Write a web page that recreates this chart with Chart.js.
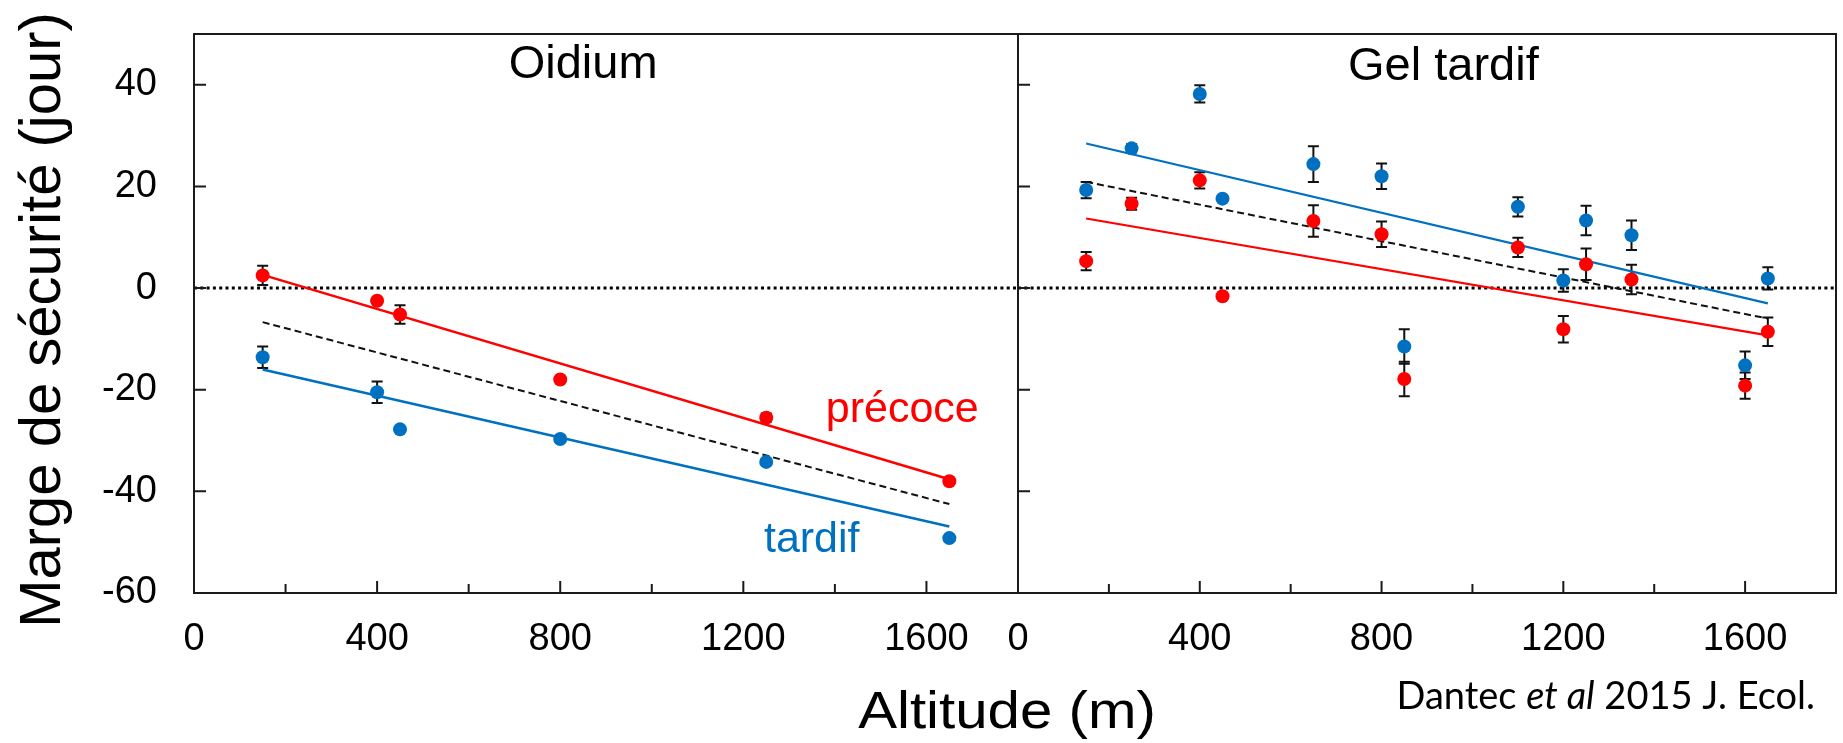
<!DOCTYPE html>
<html><head><meta charset="utf-8">
<script src="https://cdn.jsdelivr.net/npm/chart.js@4.4.1/dist/chart.umd.min.js"></script>
<style>
html,body{margin:0;padding:0;background:#fff;}
#wrap{position:relative;width:1843px;height:743px;overflow:hidden;background:#fff;}
#wrap canvas{position:absolute;left:0;top:0;}
</style></head><body>
<div id="wrap"><canvas id="c1" width="1843" height="743"></canvas><canvas id="c2" width="1843" height="743"></canvas></div>
<script>
// ---------- data ----------
const panelTitles = ['Oidium', 'Gel tardif'];
const xTitle = 'Altitude (m)';
const yTitle = 'Marge de sécurité (jour)';
const citation = ['Dantec ', 'et al', ' 2015 J. Ecol.'];
const seriesLabels = ['précoce', 'tardif'];
const xTicks = [0, 400, 800, 1200, 1600];
const xMinorTicks = [200, 600, 1000, 1400];
const yTicks = [-60, -40, -20, 0, 20, 40];
const xRange = [0, 1800];
const yRange = [-60, 50];
const zeroX = [0, 1800];
const zeroY = [0, 0];

// Oidium
const oidAlt = [150, 400, 450, 800, 1250, 1650];
const oidPrecoce = [2.5, -2.5, -5.2, -18.0, -25.5, -38.0];
const oidPrecoceErr = [1.9, 0, 1.8, 0, 0.8, 0];
const oidTardif = [-13.6, -20.5, -27.8, -29.7, -34.2, -49.2];
const oidTardifErr = [2.1, 2.1, 0, 0, 0, 0];
const oidFitX = [150, 1650];
const oidFitPrecoce = [2.6, -37.6];
const oidFitTardif = [-16.0, -46.9];
const oidFitMean = [-6.7, -42.5];

// Gel tardif
const gelAlt = [150, 250, 400, 450, 650, 800, 850, 1100, 1200, 1250, 1350, 1600, 1650];
const gelTardif = [19.3, 27.5, 38.2, 17.6, 24.4, 22.0, -11.5, 16.0, 1.5, 13.3, 10.4, -15.2, 1.9];
const gelTardifErr = [1.6, 0.8, 1.7, 0, 3.5, 2.5, 3.4, 1.9, 2.2, 2.9, 2.9, 2.7, 2.2];
const gelPrecoce = [5.3, 16.6, 21.2, -1.6, 13.2, 10.6, -17.9, 8.0, -8.1, 4.7, 1.7, -19.2, -8.6];
const gelPrecoceErr = [1.8, 1.2, 1.6, 0, 3.1, 2.5, 3.4, 1.9, 2.6, 3.1, 2.9, 2.6, 2.8];
const gelFitX = [150, 1650];
const gelFitTardif = [28.45, -3.0];
const gelFitPrecoce = [13.7, -9.3];
const gelFitMean = [20.9, -6.0];

// ---------- styles ----------
const FONT = "'Liberation Sans', Arial, sans-serif";
const CITE_FONT = "Lato, 'Open Sans', sans-serif";
const RED = '#FF0000';
const BLUE = '#0070C0';
const AXIS = '#1a1a1a';

const pts = (xa, ya) => xa.map((x, i) => ({x: x, y: ya[i]}));

const deco = {
  id: 'deco',
  beforeDatasetsDraw(chart, args, o) {
    const ctx = chart.ctx, xs = chart.scales.x, ys = chart.scales.y;
    ctx.save();
    ctx.strokeStyle = '#111';
    ctx.lineWidth = 2;
    (o.errors || []).forEach(e => {
      e.x.forEach((xv, i) => {
        const err = e.err[i];
        if (!err) return;
        const px = xs.getPixelForValue(xv);
        const y1 = ys.getPixelForValue(e.y[i] + err);
        const y2 = ys.getPixelForValue(e.y[i] - err);
        ctx.beginPath();
        ctx.moveTo(px, y1); ctx.lineTo(px, y2);
        ctx.moveTo(px - 5.5, y1); ctx.lineTo(px + 5.5, y1);
        ctx.moveTo(px - 5.5, y2); ctx.lineTo(px + 5.5, y2);
        ctx.stroke();
      });
    });
    ctx.restore();
  },
  afterDraw(chart, args, o) {
    const ctx = chart.ctx, a = chart.chartArea, xs = chart.scales.x, ys = chart.scales.y;
    ctx.save();
    ctx.strokeStyle = AXIS;
    ctx.lineWidth = 2;
    ctx.strokeRect(a.left, a.top, a.right - a.left, a.bottom - a.top);
    ctx.beginPath();
    yTicks.forEach(v => {
      if (v <= ys.min || v >= ys.max) return;
      const p = ys.getPixelForValue(v);
      ctx.moveTo(a.left, p); ctx.lineTo(a.left + 12, p);
    });
    xTicks.forEach(v => {
      if (v <= xs.min || v >= xs.max) return;
      const p = xs.getPixelForValue(v);
      ctx.moveTo(p, a.bottom); ctx.lineTo(p, a.bottom - 12);
    });
    xMinorTicks.forEach(v => {
      const p = xs.getPixelForValue(v);
      ctx.moveTo(p, a.bottom); ctx.lineTo(p, a.bottom - 9);
    });
    ctx.stroke();
    (o.texts || []).forEach(t => {
      const px = t.xv !== undefined ? xs.getPixelForValue(t.xv) : t.x;
      const py = t.yv !== undefined ? ys.getPixelForValue(t.yv) : t.y;
      ctx.fillStyle = t.color || '#000';
      ctx.textBaseline = 'alphabetic';
      ctx.textAlign = 'left';
      const widths = t.segs.map(s => { ctx.font = s.font; return ctx.measureText(s.t).width; });
      const sx = t.sx || 1;
      const total = widths.reduce((p, q) => p + q, 0) * sx;
      const off = t.align === 'center' ? -total / 2 : (t.align === 'right' ? -total : 0);
      ctx.save();
      ctx.translate(px, py);
      if (t.rot) ctx.rotate(t.rot);
      ctx.translate(off, 0);
      ctx.scale(sx, 1);
      let cx = 0;
      t.segs.forEach((s, i) => { ctx.font = s.font; ctx.fillText(s.t, cx, 0); cx += widths[i]; });
      ctx.restore();
    });
    ctx.restore();
  }
};

function xScale() {
  return {
    type: 'linear', min: xRange[0], max: xRange[1],
    afterBuildTicks: s => { s.ticks = xTicks.map(v => ({value: v})); },
    afterFit: s => { s.height = 150; s.paddingLeft = 0; s.paddingRight = 0; },
    grid: {display: false, drawTicks: false},
    border: {display: false},
    ticks: {font: {family: FONT, size: 38}, color: '#000', padding: 24, maxRotation: 0, autoSkip: false,
            callback: v => String(v)}
  };
}

function datasets(alt, pre, tar, fx, fpre, ftar, fmean, lw) {
  return [
    {label: seriesLabels[0], data: pts(alt, pre), backgroundColor: RED, borderColor: RED,
     pointRadius: 7, pointBorderWidth: 0, showLine: false, order: 1},
    {label: seriesLabels[1], data: pts(alt, tar), backgroundColor: BLUE, borderColor: BLUE,
     pointRadius: 7, pointBorderWidth: 0, showLine: false, order: 2},
    {label: 'fit ' + seriesLabels[0], data: pts(fx, fpre), borderColor: RED, borderWidth: lw,
     pointRadius: 0, showLine: true, order: 3},
    {label: 'fit ' + seriesLabels[1], data: pts(fx, ftar), borderColor: BLUE, borderWidth: lw,
     pointRadius: 0, showLine: true, order: 4},
    {label: 'moyenne', data: pts(fx, fmean), borderColor: '#111', borderWidth: 2, borderDash: [7, 4],
     pointRadius: 0, showLine: true, order: 5},
    {label: 'zéro', data: pts(zeroX, zeroY), borderColor: '#000', borderWidth: 3, borderDash: [3, 3.3],
     pointRadius: 0, showLine: true, order: 6}
  ];
}

const common = {
  responsive: false, animation: false, devicePixelRatio: 1,
  events: []
};

new Chart(document.getElementById('c1'), {
  type: 'scatter',
  data: {datasets: datasets(oidAlt, oidPrecoce, oidTardif, oidFitX, oidFitPrecoce, oidFitTardif, oidFitMean, 2.6)},
  options: Object.assign({}, common, {
    layout: {padding: {left: 0, top: 34, right: 825, bottom: 0}},
    scales: {
      x: xScale(),
      y: {
        type: 'linear', min: yRange[0], max: yRange[1],
        afterBuildTicks: s => { s.ticks = yTicks.map(v => ({value: v})); },
        afterFit: s => { s.width = 194; s.paddingTop = 0; s.paddingBottom = 0; },
        grid: {display: false, drawTicks: false},
        border: {display: false},
        ticks: {font: {family: FONT, size: 38}, color: '#000', padding: 37, callback: v => String(v)},
        title: {display: false, text: yTitle}
      }
    },
    plugins: {
      legend: {display: false}, tooltip: {enabled: false},
      deco: {
        errors: [
          {x: oidAlt, y: oidPrecoce, err: oidPrecoceErr},
          {x: oidAlt, y: oidTardif, err: oidTardifErr}
        ],
        texts: [
          {segs: [{t: yTitle, font: '58px ' + FONT}], x: 60, y: 320, align: 'center', rot: -Math.PI / 2},
          {segs: [{t: panelTitles[0], font: '47px ' + FONT}], xv: 850, yv: 41.3, align: 'center'},
          {segs: [{t: seriesLabels[0], font: '43px ' + FONT}], xv: 1380, yv: -26.3, align: 'left', color: RED},
          {segs: [{t: seriesLabels[1], font: '43px ' + FONT}], xv: 1245, yv: -51.9, align: 'left', color: BLUE}
        ]
      }
    }
  }),
  plugins: [deco]
});

new Chart(document.getElementById('c2'), {
  type: 'scatter',
  data: {datasets: datasets(gelAlt, gelPrecoce, gelTardif, gelFitX, gelFitPrecoce, gelFitTardif, gelFitMean, 2.2)},
  options: Object.assign({}, common, {
    layout: {padding: {left: 1018, top: 34, right: 2, bottom: 0}},
    scales: {
      x: xScale(),
      y: {type: 'linear', min: yRange[0], max: yRange[1], display: false}
    },
    plugins: {
      legend: {display: false}, tooltip: {enabled: false},
      deco: {
        errors: [
          {x: gelAlt, y: gelPrecoce, err: gelPrecoceErr},
          {x: gelAlt, y: gelTardif, err: gelTardifErr}
        ],
        texts: [
          {segs: [{t: panelTitles[1], font: '47px ' + FONT}], xv: 936, yv: 41.0, align: 'center'},
          {segs: [{t: xTitle, font: '52px ' + FONT}], x: 1007, y: 728, align: 'center', sx: 1.12},
          {segs: [{t: citation[0], font: '38px ' + CITE_FONT},
                  {t: citation[1], font: 'italic 38px ' + CITE_FONT},
                  {t: citation[2], font: '38px ' + CITE_FONT}], x: 1815, y: 709, align: 'right'}
        ]
      }
    }
  }),
  plugins: [deco]
});
</script>
</body></html>
